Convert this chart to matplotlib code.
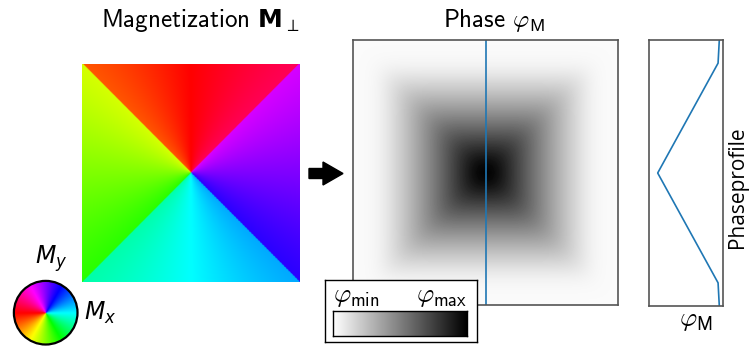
import numpy as np
import matplotlib
matplotlib.use("Agg")
import matplotlib.pyplot as plt
from matplotlib.colors import hsv_to_rgb, PowerNorm
from matplotlib.patches import Circle, FancyArrow

# phase along the blue line (position 0 = top, 1 = bottom)
profile_pos = [0.0, 0.087, 0.5, 0.913, 1.0]
profile_val = [0.0, 0.02, 1.0, 0.02, 0.0]

# fraction of the vortex rotation kept inside each closure domain
domain_twist = 0.45

mag_title = r"Magnetization $\mathbf{M}_\perp$"
phase_title = r"Phase $\varphi_\mathsf{M}$"
profile_label = "Phaseprofile"
profile_xlabel = r"$\varphi_\mathsf{M}$"
cbar_labels = [r"$\varphi_\mathsf{min}$", r"$\varphi_\mathsf{max}$"]
wheel_labels = [r"$M_x$", r"$M_y$"]

W, H = 749, 347
fig = plt.figure(figsize=(W / 100, H / 100), dpi=100)


def px_axes(x0, y0, x1, y1, **kw):
    # axes from pixel box (top-left origin)
    return fig.add_axes([x0 / W, (H - y1) / H, (x1 - x0) / W, (y1 - y0) / H], **kw)


def px_text(x, y, s, **kw):
    return fig.text(x / W, (H - y) / H, s, ha="center", va="center", zorder=10, **kw)


# --- magnetization (vortex, colour = in-plane direction) ---
n = 400
g = np.linspace(-1, 1, n)
X, Y = np.meshgrid(g, g)
theta = np.arctan2(Y, X)
q = np.round(theta / (np.pi / 2)) * (np.pi / 2)
mdir = q + domain_twist * (theta - q) + np.pi / 2
hue = ((mdir + np.pi) / (2 * np.pi)) % 1
rgb = hsv_to_rgb(np.dstack([hue, np.ones_like(hue), np.ones_like(hue)]))

ax_m = px_axes(82, 64, 300, 282)
ax_m.imshow(rgb, origin="lower", extent=[-1, 1, -1, 1], interpolation="bilinear")
ax_m.axis("off")
px_text(200, 20, mag_title, family="cmss10", fontsize=18, math_fontfamily="dejavusans")

# --- colour wheel ---
ax_w = px_axes(10.7, 277.7, 80.7, 347.7)
psi = np.arctan2(Y, X)
whue = ((psi + np.pi) / (2 * np.pi)) % 1
wrgb = hsv_to_rgb(np.dstack([whue, np.ones_like(whue), np.ones_like(whue)]))
im = ax_w.imshow(wrgb, origin="lower", extent=[-1, 1, -1, 1], interpolation="bilinear")
circ = Circle((0, 0), 1, transform=ax_w.transData, fill=False, ec="black", lw=1.6)
im.set_clip_path(Circle((0, 0), 1, transform=ax_w.transData))
ax_w.add_patch(circ)
ax_w.set_xlim(-1.1, 1.1)
ax_w.set_ylim(-1.1, 1.1)
ax_w.axis("off")
px_text(100, 313, wheel_labels[0], fontsize=17, math_fontfamily="dejavusans")
px_text(51, 259, wheel_labels[1], fontsize=17, math_fontfamily="dejavusans")

# --- arrow ---
fig.patches.append(FancyArrow(3.09, (H - 173.5) / 100, 0.34, 0, width=0.10,
                              head_width=0.23, head_length=0.20,
                              length_includes_head=True, color="black",
                              transform=fig.dpi_scale_trans))

# --- phase image, built from the profile (Chebyshev distance from centre) ---
m = 265
u = (np.arange(m) + 0.5) / m
U, V = np.meshgrid(u, u)
r = np.maximum(np.abs(U - 0.5), np.abs(V - 0.5))
r_pts = 0.5 - np.array(profile_pos[:3])
phase = np.interp(r, r_pts[::-1], np.array(profile_val[:3])[::-1])

# soften with a gaussian
sig = 9.0
k = np.exp(-0.5 * (np.arange(-30, 31) / sig) ** 2)
k /= k.sum()
pad = np.pad(phase, 30, mode="edge")
pad = np.apply_along_axis(lambda a: np.convolve(a, k, mode="same"), 0, pad)
pad = np.apply_along_axis(lambda a: np.convolve(a, k, mode="same"), 1, pad)
phase = pad[30:-30, 30:-30] + 0.04

ax_p = px_axes(353, 40, 618, 305)
ax_p.imshow(phase, cmap="gray_r", norm=PowerNorm(1.3, vmin=0, vmax=phase.max() * 1.01),
            extent=[0, 1, 1, 0], interpolation="bilinear")
ax_p.axvline(0.5, color="#1f77b4", lw=1.2)
ax_p.set_xticks([])
ax_p.set_yticks([])
for s in ax_p.spines.values():
    s.set_color("#555555")
    s.set_linewidth(1.2)
px_text(494, 21, phase_title, family="cmss10", fontsize=18, math_fontfamily="cm")

# --- colour bar inset ---
ax_b = px_axes(325, 280, 477, 342, zorder=5)
ax_b.set_facecolor("white")
ax_b.set_xticks([])
ax_b.set_yticks([])
for s in ax_b.spines.values():
    s.set_color("black")
    s.set_linewidth(1.0)
ax_c = px_axes(333, 311, 467, 336, zorder=6)
ax_c.imshow(np.linspace(0, 1, 256)[None, :], cmap="gray_r", aspect="auto",
            extent=[0, 1, 0, 1])
ax_c.set_xticks([])
ax_c.set_yticks([])
for s in ax_c.spines.values():
    s.set_color("black")
    s.set_linewidth(1.0)
px_text(356, 296, cbar_labels[0], fontsize=19, math_fontfamily="cm")
px_text(442, 296, cbar_labels[1], fontsize=19, math_fontfamily="cm")

# --- profile ---
ax_r = px_axes(649, 40, 723, 306)
ax_r.plot(profile_val, profile_pos, color="#1f77b4", lw=1.2)
ax_r.set_ylim(1, 0)
ax_r.set_xlim(1.141, -0.06)
ax_r.set_xticks([])
ax_r.set_yticks([])
for s in ax_r.spines.values():
    s.set_color("#555555")
    s.set_linewidth(1.2)
px_text(696, 320, profile_xlabel, fontsize=19, math_fontfamily="cm")
px_text(738, 187, profile_label, fontsize=15, rotation=90, family="Open Sans")

fig.savefig("out.png", dpi=100)
